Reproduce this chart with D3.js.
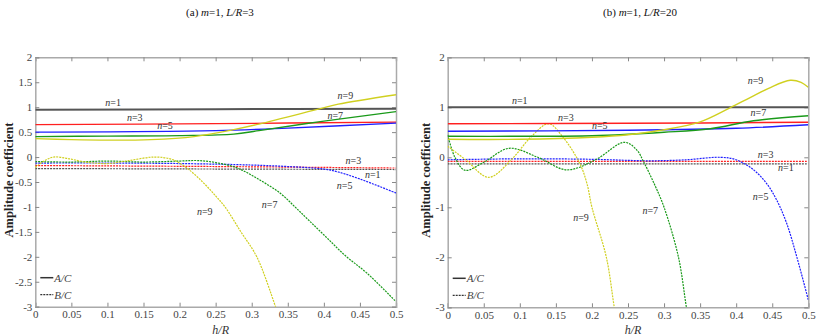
<!DOCTYPE html>
<html>
<head>
<meta charset="utf-8">
<script src="https://cdn.jsdelivr.net/npm/d3@7"></script>
<style>
body { margin:0; background:#fff; }
svg text { font-family:"Liberation Serif", "Times New Roman", Times, serif !important; }
</style>
</head>
<body>
<div id="chart"></div>
<script>
// ---- tick labels
var xTicks = [0,0.05,0.1,0.15,0.2,0.25,0.3,0.35,0.4,0.45,0.5];
var yTicksA = [-3,-2.5,-2,-1.5,-1,-0.5,0,0.5,1,1.5,2];
var yTicksB = [-3,-2,-1,0,1,2];

// ---- (a) L/R=3, A/C solid
var aA1 = [[0,0.95],[0.25,0.96],[0.5,0.97]];
var aA3 = [[0,0.65],[0.25,0.67],[0.5,0.70]];
var aA5 = [[0,0.50],[0.25,0.53],[0.35,0.58],[0.5,0.68]];
var aA7 = [[0,0.41],[0.1,0.42],[0.2,0.43],[0.275,0.46],[0.31,0.53],[0.395,0.71],[0.5,0.91]];
var aA9 = [[0,0.37],[0.05,0.35],[0.1,0.34],[0.16,0.35],[0.22,0.41],[0.275,0.55],[0.31,0.66],[0.395,0.97],[0.42,1.06],[0.5,1.25]];
// ---- (a) B/C dashed
var aB1 = [[0,-0.23],[0.25,-0.24],[0.5,-0.25]];
var aB3 = [[0,-0.17],[0.25,-0.19],[0.5,-0.22]];
var aB5 = [[0,-0.12],[0.1,-0.12],[0.2,-0.13],[0.3,-0.16],[0.35,-0.19],[0.4,-0.24],[0.42,-0.3],[0.45,-0.44],[0.5,-0.72]];
var aB7 = [[0,-0.09],[0.05,-0.1],[0.1,-0.08],[0.15,-0.1],[0.2,-0.08],[0.225,-0.07],[0.25,-0.11],[0.28,-0.22],[0.31,-0.45],[0.34,-0.73],[0.36,-1.0],[0.38,-1.28],[0.405,-1.63],[0.43,-1.98],[0.46,-2.33],[0.5,-2.9]];
var aB9 = [[0,-0.21],[0.01,-0.1],[0.025,0.0],[0.045,-0.03],[0.07,-0.1],[0.1,-0.13],[0.13,-0.07],[0.165,0.0],[0.19,-0.05],[0.21,-0.22],[0.232,-0.5],[0.25,-0.78],[0.263,-1.0],[0.285,-1.5],[0.307,-2.0],[0.333,-3.0],[0.34,-3.3]];

// ---- (b) L/R=20, A/C solid
var bA1 = [[0,1.0],[0.25,1.0],[0.5,1.0]];
var bA3 = [[0,0.67],[0.25,0.68],[0.5,0.70]];
var bA5 = [[0,0.52],[0.25,0.54],[0.4,0.58],[0.5,0.65]];
var bA7 = [[0,0.42],[0.1,0.42],[0.2,0.43],[0.3,0.5],[0.364,0.57],[0.424,0.73],[0.5,0.83]];
var bA9 = [[0,0.36],[0.1,0.36],[0.2,0.40],[0.25,0.45],[0.3,0.55],[0.35,0.71],[0.39,0.98],[0.42,1.2],[0.445,1.38],[0.475,1.54],[0.49,1.5],[0.5,1.40]];
// ---- (b) B/C dashed
var bB1 = [[0,-0.13],[0.25,-0.13],[0.5,-0.13]];
var bB3 = [[0,-0.08],[0.25,-0.08],[0.5,-0.08]];
var bB5 = [[0,-0.05],[0.1,-0.03],[0.2,-0.04],[0.28,-0.07],[0.33,-0.05],[0.378,0.0],[0.40,-0.05],[0.424,-0.25],[0.442,-0.52],[0.456,-0.85],[0.47,-1.32],[0.484,-1.99],[0.5,-2.85]];
var bB7 = [[0,0.45],[0.01,0.0],[0.024,-0.26],[0.05,-0.1],[0.085,0.18],[0.125,0.0],[0.165,-0.25],[0.205,-0.05],[0.245,0.30],[0.262,0.15],[0.272,-0.1],[0.287,-0.55],[0.30,-1.0],[0.32,-2.0],[0.331,-3.0],[0.335,-3.3]];
var bB9 = [[0,0.22],[0.025,-0.05],[0.057,-0.40],[0.09,-0.02],[0.115,0.4],[0.14,0.67],[0.16,0.4],[0.183,-0.12],[0.193,-0.52],[0.2,-1.0],[0.22,-2.0],[0.231,-3.0],[0.235,-3.3]];

var colors = {1:"#555555", 3:"#ff2020", 5:"#2020ff", 7:"#1a9a1a", 9:"#d0d020"};

// curve labels: [n, x, y] in data units (left edge / baseline)
var aLabels = [[1,0.097,1.03],[3,0.127,0.73],[5,0.169,0.57],[9,0.419,1.17],[7,0.405,0.77],
               [3,0.43,-0.13],[1,0.457,-0.41],[5,0.418,-0.64],[7,0.314,-1.02],[9,0.224,-1.16]];
var bLabels = [[1,0.089,1.07],[3,0.153,0.73],[5,0.2,0.57],[9,0.416,1.47],[7,0.42,0.83],
               [3,0.43,-0.01],[1,0.458,-0.27],[5,0.423,-0.85],[7,0.27,-1.13],[9,0.174,-1.27]];

var svg = d3.select("#chart").append("svg")
    .attr("width", 817)
    .attr("height", 336);

var plain = function(d) { return String(d); };

function drawPanel(opt) {
    var x = d3.scaleLinear().domain([0, 0.5]).range([opt.x0, opt.x1]);
    var y = d3.scaleLinear().domain([-3, 2]).range([opt.y1, opt.y0]);
    var g = svg.append("g");

    g.append("clipPath").attr("id", opt.id)
        .append("rect")
        .attr("x", opt.x0).attr("y", opt.y0)
        .attr("width", opt.x1 - opt.x0).attr("height", opt.y1 - opt.y0);

    // title
    var t = svg.append("text")
        .attr("x", opt.tx).attr("y", 16)
        .attr("text-anchor", "middle")
        .attr("font-size", 11)
        .style("fill", "#111");
    t.append("tspan").text(opt.tag + " ");
    t.append("tspan").attr("font-style", "italic").text("m");
    t.append("tspan").text("=1, ");
    t.append("tspan").attr("font-style", "italic").text("L/R");
    t.append("tspan").text("=" + opt.lr);

    // axes, ticks inward
    g.append("g").attr("transform", "translate(0," + opt.y1 + ")")
        .call(d3.axisBottom(x).tickValues(xTicks).tickSize(-4).tickPadding(4).tickFormat(plain));
    g.append("g").attr("transform", "translate(0," + opt.y0 + ")")
        .call(d3.axisTop(x).tickValues(xTicks).tickSize(-4).tickFormat(""));
    g.append("g").attr("transform", "translate(" + opt.x0 + ",0)")
        .call(d3.axisLeft(y).tickValues(opt.yTicks).tickSize(-4).tickPadding(3).tickFormat(plain));
    g.append("g").attr("transform", "translate(" + opt.x1 + ",0)")
        .call(d3.axisRight(y).tickValues(opt.yTicks).tickSize(-4).tickFormat(""));

    g.selectAll(".domain").attr("stroke", "#aaa").attr("stroke-width", 1.5);
    g.selectAll(".tick line").attr("stroke", "#888");
    g.selectAll(".tick text")
        .attr("font-size", 11)
        .style("fill", "#444");

    var line = d3.line()
        .curve(d3.curveCatmullRom.alpha(0.5))
        .x(function(d) { return x(d[0]); })
        .y(function(d) { return y(d[1]); });

    var lines = g.append("g").attr("clip-path", "url(#" + opt.id + ")");
    opt.dashed.forEach(function(s) {
        lines.append("path")
            .attr("d", line(s[1]))
            .attr("fill", "none")
            .attr("stroke", colors[s[0]])
            .attr("stroke-width", 1.2)
            .attr("stroke-dasharray", "2,1");
    });
    opt.solid.forEach(function(s) {
        lines.append("path")
            .attr("d", line(s[1]))
            .attr("fill", "none")
            .attr("stroke", colors[s[0]])
            .attr("stroke-width", s[0] == 1 ? 2 : 1.4);
    });

    // n= labels
    opt.labels.forEach(function(l) {
        var tx = g.append("text")
            .attr("x", x(l[1])).attr("y", y(l[2]))
            .attr("font-size", 10)
            .style("fill", "#333");
        tx.append("tspan").attr("font-style", "italic").text("n");
        tx.append("tspan").text("=" + l[0]);
    });

    // y label
    g.append("text")
        .attr("transform", "translate(" + opt.ylx + "," + ((opt.y0 + opt.y1) / 2 - 2) + ") rotate(-90)")
        .attr("text-anchor", "middle")
        .attr("font-size", 12.5)
        .attr("font-weight", "bold")
        .style("fill", "#222")
        .text("Amplitude coefficient");

    // x label
    g.append("text")
        .attr("x", (opt.x0 + opt.x1) / 2 + 5).attr("y", 334)
        .attr("text-anchor", "middle")
        .attr("font-size", 12)
        .attr("font-style", "italic")
        .style("fill", "#333")
        .text("h/R");

    // legend
    var lg = g.append("g").attr("transform", "translate(" + (opt.x0 + 5) + "," + (opt.y1 - 29) + ")");
    lg.append("line").attr("x1", 0).attr("x2", 13).attr("y1", 0).attr("y2", 0)
        .attr("stroke", "#333").attr("stroke-width", 1.5);
    lg.append("text").attr("x", 14).attr("y", 4).attr("font-size", 11)
        .attr("font-style", "italic").style("fill", "#444").text("A/C");
    lg.append("line").attr("x1", 0).attr("x2", 13).attr("y1", 17).attr("y2", 17)
        .attr("stroke", "#333").attr("stroke-width", 1.2).attr("stroke-dasharray", "2,1");
    lg.append("text").attr("x", 14).attr("y", 21).attr("font-size", 11)
        .attr("font-style", "italic").style("fill", "#444").text("B/C");
}

drawPanel({
    id: "clipA", tag: "(a)", lr: "3", tx: 220,
    x0: 35.3, x1: 396, y0: 57.3, y1: 306.7, ylx: 13,
    yTicks: yTicksA,
    solid: [[1,aA1],[3,aA3],[5,aA5],[7,aA7],[9,aA9]],
    dashed: [[1,aB1],[3,aB3],[5,aB5],[7,aB7],[9,aB9]],
    labels: aLabels
});

drawPanel({
    id: "clipB", tag: "(b)", lr: "20", tx: 640,
    x0: 447.7, x1: 808.3, y0: 57.3, y1: 307.3, ylx: 430,
    yTicks: yTicksB,
    solid: [[1,bA1],[3,bA3],[5,bA5],[7,bA7],[9,bA9]],
    dashed: [[1,bB1],[3,bB3],[5,bB5],[7,bB7],[9,bB9]],
    labels: bLabels
});
</script>
</body>
</html>
